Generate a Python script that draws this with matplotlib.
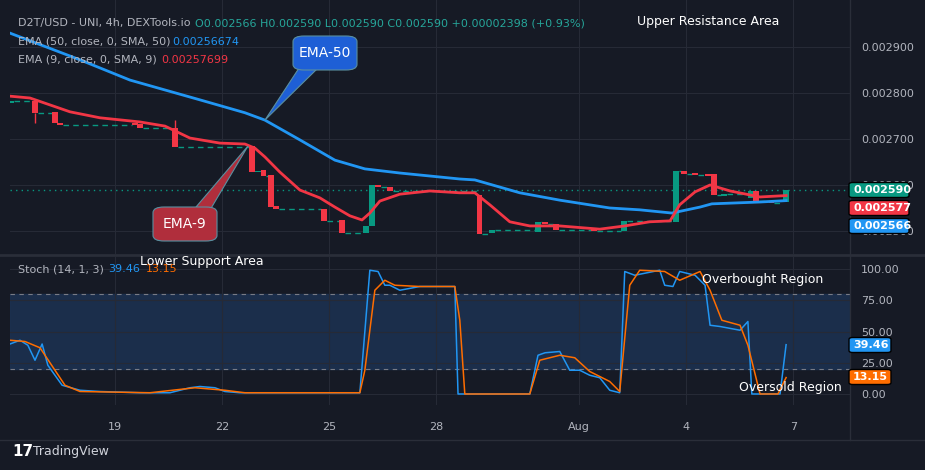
import matplotlib
matplotlib.use("Agg")
import matplotlib.pyplot as plt
from matplotlib.patches import FancyBboxPatch, Polygon

BG = "#161a25"
GRID = "#262a36"
TXT = "#b2b5be"
UP = "#089981"
DOWN = "#f23645"
BLUE = "#2196f3"
ORANGE = "#ff6d00"

# candles: day position, open, close
candle_day = [16.09, 16.76, 17.32, 17.46, 19.56, 19.70, 20.68, 22.84, 23.01, 23.17, 23.37, 23.51,
              24.86, 25.36, 26.03, 26.20, 26.37, 26.70, 29.22, 29.56, 30.85, 31.05, 31.35, 32.42,
              33.26, 34.72, 34.94, 35.25, 35.61, 35.78, 36.06, 36.82, 36.96, 37.40, 37.80]
candle_open = [0.002778, 0.002783, 0.002759, 0.002735, 0.002735, 0.002733, 0.002724, 0.002685,
               0.002628, 0.002633, 0.002622, 0.002554, 0.002548, 0.002524, 0.002496, 0.002511,
               0.002600, 0.002596, 0.002578, 0.002496, 0.002498, 0.002520, 0.002515, 0.002504,
               0.002500, 0.002520, 0.002630, 0.002626, 0.002624, 0.002624, 0.002576, 0.002572,
               0.002587, 0.002565, 0.002563]
candle_close = [0.002783, 0.002757, 0.002735, 0.002730, 0.002730, 0.002724, 0.002683, 0.002628,
                0.002630, 0.002620, 0.002552, 0.002548, 0.002522, 0.002496, 0.002511, 0.002600,
                0.002596, 0.002587, 0.002493, 0.002502, 0.002520, 0.002515, 0.002502, 0.002500,
                0.002522, 0.002630, 0.002624, 0.002622, 0.002620, 0.002578, 0.002580, 0.002587,
                0.002565, 0.002561, 0.002590]

ema50_day = [16.06, 18.02, 19.42, 21.38, 22.64, 23.20, 24.18, 25.16, 26.00, 26.98, 28.66, 29.08,
             30.34, 31.46, 32.86, 33.70, 34.60, 35.39, 35.72, 37.07, 37.80]
ema50_val = [0.002930, 0.002872, 0.002828, 0.002785, 0.002757, 0.002741, 0.002698, 0.002654,
             0.002635, 0.002626, 0.002613, 0.002611, 0.002583, 0.002567, 0.002550, 0.002546,
             0.002539, 0.002552, 0.002559, 0.002563, 0.002566]
ema9_day = [16.06, 16.62, 17.18, 17.74, 18.58, 19.70, 20.40, 21.10, 21.94, 22.64, 22.92, 23.20,
            23.62, 24.18, 24.74, 25.16, 25.58, 25.92, 26.14, 26.42, 26.98, 27.82, 28.66, 29.08,
            29.50, 30.06, 30.62, 31.46, 32.58, 33.28, 33.98, 34.55, 34.82, 35.25, 35.67, 36.23,
            37.07, 37.80]
ema9_val = [0.002793, 0.002789, 0.002774, 0.002759, 0.002746, 0.002737, 0.002728, 0.002702,
            0.002691, 0.002689, 0.002680, 0.002661, 0.002628, 0.002589, 0.002572, 0.002552,
            0.002533, 0.002524, 0.002539, 0.002565, 0.002580, 0.002587, 0.002583, 0.002583,
            0.002557, 0.002520, 0.002511, 0.002511, 0.002504, 0.002511, 0.002520, 0.002522,
            0.002557, 0.002585, 0.002600, 0.002587, 0.002574, 0.002577]

k_day = [16.06, 16.34, 16.56, 16.76, 16.96, 17.12, 17.32, 17.52, 18.02, 18.58, 19.70, 20.54,
         21.10, 21.38, 21.80, 22.08, 22.50, 24.18, 25.86, 26.14, 26.37, 26.56, 26.70, 26.98,
         27.54, 28.52, 28.61, 29.22, 30.62, 30.85, 31.05, 31.46, 31.74, 32.02, 32.30, 32.58,
         32.86, 33.14, 33.28, 33.56, 34.26, 34.40, 34.63, 34.82, 35.25, 35.53, 35.67, 35.95,
         36.51, 36.73, 36.84, 37.35, 37.63, 37.80]
k_val = [40, 43, 39, 27, 40, 23, 15, 7, 3, 2, 1, 1, 5, 6, 5, 2, 1, 1, 1, 99, 98, 87, 87, 83,
         86, 86, 0, 0, 0, 31, 33, 34, 19, 19, 15, 13, 3, 1, 98, 95, 99, 87, 86, 98, 95, 87,
         55, 54, 51, 58, 0, 0, 0, 39.46]
d_day = [16.06, 16.48, 16.90, 17.32, 17.60, 18.02, 19.98, 21.24, 22.08, 22.64, 25.86, 26.00,
         26.28, 26.56, 26.84, 27.54, 28.52, 28.66, 28.80, 30.62, 30.90, 31.46, 31.88, 32.30,
         32.86, 33.14, 33.42, 33.70, 34.40, 34.82, 35.39, 35.67, 36.00, 36.51, 36.73, 37.07,
         37.57, 37.80]
d_val = [43, 42, 37, 19, 7, 2, 1, 5, 3, 1, 1, 19, 83, 91, 87, 86, 86, 59, 0, 0, 27, 31, 29,
         18, 10, 2, 87, 99, 98, 91, 98, 83, 59, 55, 39, 0, 0, 13.15]

price_ticks = [0.0025, 0.0026, 0.0027, 0.0028, 0.0029]
stoch_ticks = [0, 25, 50, 75, 100]
date_ticks = [19, 22, 25, 28, 32, 35, 38]
date_labels = ["19", "22", "25", "28", "Aug", "4", "7"]

W, H = 925, 470
FS = 8
fig = plt.figure(figsize=(9.25, 4.7), dpi=100, facecolor=BG)
axp = fig.add_axes([10 / W, 1 - 254 / H, 840 / W, 254 / H], facecolor=BG)
axs = fig.add_axes([10 / W, 1 - 405 / H, 840 / W, 148 / H], facecolor=BG)
xl = (16.06, 39.59)

for ax in (axp, axs):
    ax.set_xlim(*xl)
    for s in ax.spines.values():
        s.set_visible(False)
    ax.tick_params(length=0, colors=TXT, labelsize=FS)
    ax.set_xticks(date_ticks)
    ax.grid(color=GRID, linewidth=0.8)
    ax.yaxis.tick_right()
    ax.tick_params(axis="y", pad=8)
axp.set_xticklabels([])
axs.set_xticklabels(date_labels)
axs.tick_params(axis="x", pad=12)

# price panel
axp.set_ylim(0.00245, 0.003002)
axp.set_yticks(price_ticks)
axp.set_yticklabels([f"{v:.6f}" for v in price_ticks])
bw = 0.15
for i, (d, o, c) in enumerate(zip(candle_day, candle_open, candle_close)):
    col = UP if c >= o else DOWN
    lo, hi = min(o, c), max(o, c)
    axp.bar(d, max(hi - lo, 0.000003), bottom=lo, width=bw, color=col, zorder=3)
    if i + 1 < len(candle_day):
        axp.hlines(c, d + bw / 2, candle_day[i + 1] - bw / 2, colors=UP, linestyles=(0, (4, 3)),
                   linewidth=1, zorder=2)
axp.vlines(20.68, 0.002724, 0.002741, color=DOWN, lw=1, zorder=3)
axp.vlines(16.76, 0.002735, 0.002757, color=DOWN, lw=1, zorder=3)
axp.plot(ema50_day, ema50_val, color=BLUE, lw=2, zorder=4)
axp.plot(ema9_day, ema9_val, color=DOWN, lw=2, zorder=4)
axp.axhline(0.002590, color=UP, ls=(0, (1, 3)), lw=1)

fig.text(18 / W, 1 - 23 / H, "D2T/USD - UNI, 4h, DEXTools.io", color=TXT, fontsize=FS, va="center")
fig.text(195 / W, 1 - 23 / H, "O0.002566 H0.002590 L0.002590 C0.002590 +0.00002398 (+0.93%)",
         color="#26a69a", fontsize=FS, va="center")
fig.text(18 / W, 1 - 42 / H, "EMA (50, close, 0, SMA, 50)", color=TXT, fontsize=FS, va="center")
fig.text(172 / W, 1 - 42 / H, "0.00256674", color=BLUE, fontsize=FS, va="center")
fig.text(18 / W, 1 - 60 / H, "EMA (9, close, 0, SMA, 9)", color=TXT, fontsize=FS, va="center")
fig.text(161 / W, 1 - 60 / H, "0.00257699", color=DOWN, fontsize=FS, va="center")
fig.text(708 / W, 1 - 21 / H, "Upper Resistance Area", color="white", fontsize=9, ha="center", va="center")

# callouts (figure pixel coords)
def callout(cx, cy, w, h, tip, base, col, label):
    fig.patches.append(Polygon([(p[0] / W, 1 - p[1] / H) for p in [tip] + base],
                               closed=True, transform=fig.transFigure, facecolor=col,
                               edgecolor="#5a8fa0", lw=0.8, zorder=9))
    fig.patches.append(FancyBboxPatch(((cx - w / 2) / W, 1 - (cy + h / 2) / H), w / W, h / H,
                                      boxstyle="round,pad=0,rounding_size=0.012",
                                      transform=fig.transFigure, facecolor=col,
                                      edgecolor="#5a8fa0", lw=0.8, zorder=10))
    fig.text(cx / W, 1 - cy / H, label, color="white", fontsize=10, ha="center", va="center", zorder=11)

callout(325, 53, 64, 34, (265, 120), [(303, 62), (318, 68)], "#1e5fd6", "EMA-50")
callout(185, 224, 64, 34, (248, 146), [(196, 207), (210, 210)], "#b02e3c", "EMA-9")

# stoch panel
axs.set_ylim(-8.8, 109.6)
axs.set_yticks(stoch_ticks)
axs.set_yticklabels([f"{v:.2f}" for v in stoch_ticks])
axs.axhspan(20, 80, color="#1c3150", alpha=0.9, zorder=0)
axs.axhline(80, color="#787b86", ls=(0, (4, 4)), lw=0.8)
axs.axhline(20, color="#787b86", ls=(0, (4, 4)), lw=0.8)
axs.plot(k_day, k_val, color=BLUE, lw=1.1, zorder=3)
axs.plot(d_day, d_val, color=ORANGE, lw=1.1, zorder=3)
fig.text(18 / W, 1 - 269 / H, "Stoch (14, 1, 3)", color=TXT, fontsize=FS, va="center")
fig.text(108 / W, 1 - 269 / H, "39.46", color=BLUE, fontsize=FS, va="center")
fig.text(146 / W, 1 - 269 / H, "13.15", color=ORANGE, fontsize=FS, va="center")
fig.text(202 / W, 1 - 261 / H, "Lower Support Area", color="white", fontsize=9, ha="center", va="center")
fig.text(763 / W, 1 - 279 / H, "Overbought Region", color="white", fontsize=9, ha="center", va="center")
fig.text(790 / W, 1 - 388 / H, "Oversold Region", color="white", fontsize=9, ha="center", va="center")

# separators and right-axis tags
fig.add_artist(plt.Line2D([0, 1], [1 - 255 / H] * 2, color="#2a2e39", lw=2))
fig.add_artist(plt.Line2D([850 / W] * 2, [1 - 440 / H, 1], color="#2a2e39", lw=1))
fig.add_artist(plt.Line2D([0, 1], [1 - 440 / H] * 2, color="#2a2e39", lw=1))

def tag(y, text, col, w=60):
    fig.add_artist(FancyBboxPatch((849 / W, 1 - (y + 7.5) / H), w / W, 15 / H,
                                  boxstyle="round,pad=0,rounding_size=0.004",
                                  transform=fig.transFigure, facecolor=col, zorder=10))
    fig.add_artist(plt.Text(853 / W, 1 - y / H, text, color="white", fontsize=FS,
                            fontweight="bold", ha="left", va="center", zorder=11,
                            transform=fig.transFigure))

tag(190, "0.002590", UP)
tag(208, "0.002577", DOWN)
tag(226, "0.002566", BLUE)
tag(345, "39.46", BLUE, 42)
tag(377, "13.15", ORANGE, 42)

fig.text(12 / W, 1 - 452 / H, "17", color="white", fontsize=11, fontweight="bold", va="center")
fig.text(33 / W, 1 - 452 / H, "TradingView", color="#d1d4dc", fontsize=9, va="center")

fig.savefig("out.png", dpi=100, facecolor=BG)
